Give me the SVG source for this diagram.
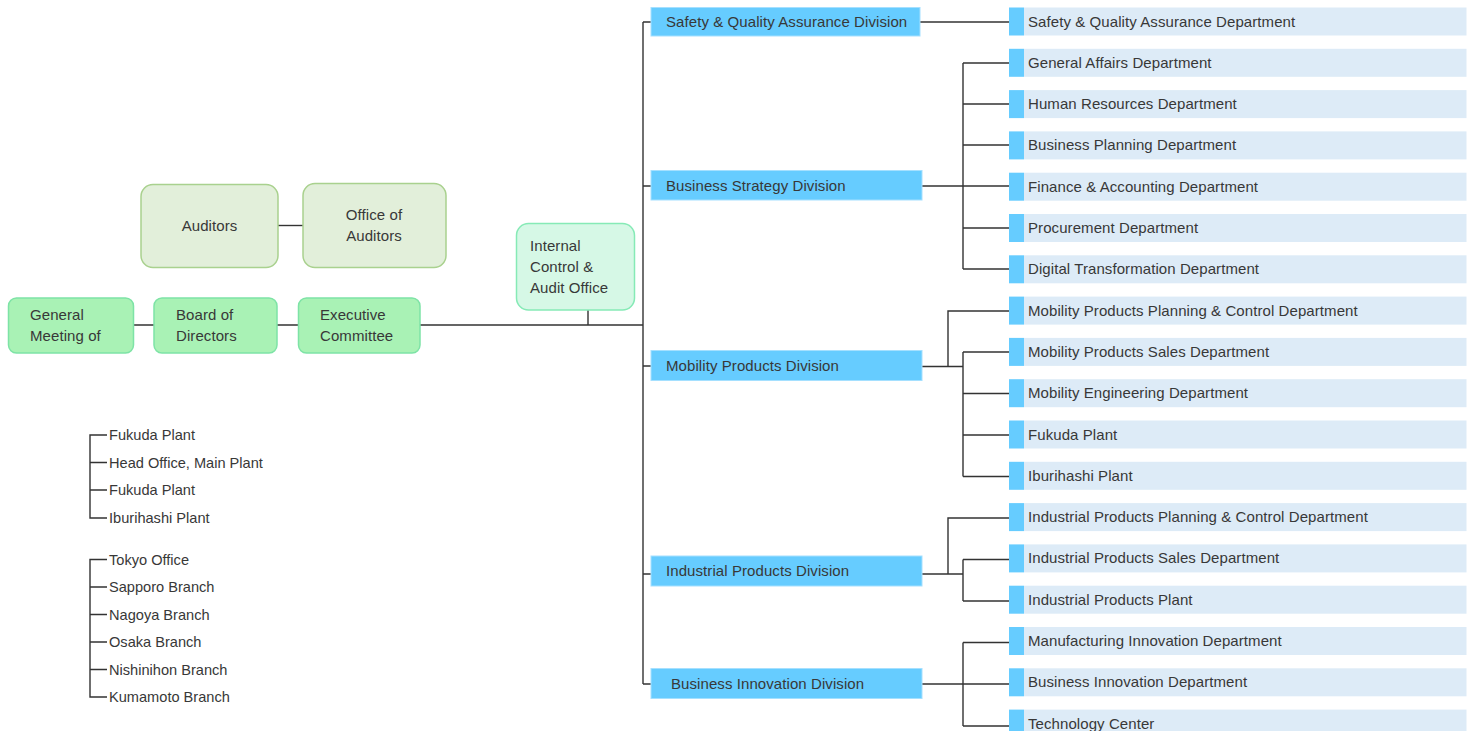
<svg xmlns="http://www.w3.org/2000/svg" width="1477" height="731" viewBox="0 0 1477 731">
<style>
text{font-family:"Liberation Sans",Arial,sans-serif;font-size:15px;fill:#383838;letter-spacing:0.08px;}
.lst{font-size:14.6px;letter-spacing:0;}
.ln{stroke:#333;stroke-width:1.4;fill:none;}
.tab{fill:#66CCFF;}
.bar{fill:#DDEBF7;}
.div{fill:#66CCFF;stroke:#A5E0FF;stroke-width:1;}
.aud{fill:#E2EFDA;stroke:#A9D18E;stroke-width:1.5;}
.gov{fill:#A9F2B5;stroke:#7EE3A6;stroke-width:1.5;}
.ic{fill:#D6F8E6;stroke:#86EAB6;stroke-width:1.5;}
</style>
<rect width="1477" height="731" fill="#fff"/>
<g id="connectors">
<path class="ln" d="M278 225.5H303"/>
<path class="ln" d="M133 325H154M277 325H298M420 325H643M588 310V325"/>
<path class="ln" d="M643 22V684M643 22H651M643 186H651M643 366H651M643 574H651M643 684H651"/>
<path class="ln" d="M920 22H1009"/>
<path class="ln" d="M922 186H1009M963 63V269M963 63H1009M963 104H1009M963 145H1009M963 228H1009M963 269H1009"/>
<path class="ln" d="M922 366.5H963M948 366.5V311H1009M963 352V476.5M963 352H1009M963 393.5H1009M963 435H1009M963 476.5H1009"/>
<path class="ln" d="M922 574H963M948 574V518H1009M963 559.5V601M963 559.5H1009M963 601H1009"/>
<path class="ln" d="M922 684H1009M963 642.5V726M963 642.5H1009M963 726H1009"/>
<path class="ln" d="M107 435H90V518H107M90 462.5H107M90 490H107"/>
<path class="ln" d="M107 559.5H90V697H107M90 587H107M90 614.5H107M90 642H107M90 669.5H107"/>
</g>
<g id="auditors"><rect class="aud" x="141" y="184.5" width="137" height="83" rx="12"/><text x="209.5" y="231" text-anchor="middle">Auditors</text></g>
<g id="office-of-auditors"><rect class="aud" x="303" y="183.5" width="143" height="84" rx="12"/><text x="374" y="220" text-anchor="middle">Office of</text><text x="374" y="241" text-anchor="middle">Auditors</text></g>
<g id="general-meeting"><rect class="gov" x="8.5" y="298" width="125" height="55" rx="8"/><text x="30" y="320">General</text><text x="30" y="341">Meeting of</text></g>
<g id="board"><rect class="gov" x="154" y="298" width="123" height="55" rx="8"/><text x="176" y="320">Board of</text><text x="176" y="341">Directors</text></g>
<g id="executive"><rect class="gov" x="298.5" y="298" width="121.5" height="55" rx="8"/><text x="320" y="320">Executive</text><text x="320" y="341">Committee</text></g>
<g id="internal-control"><rect class="ic" x="516.5" y="223.5" width="118" height="86.5" rx="12"/><text x="530" y="251">Internal</text><text x="530" y="272">Control &amp;</text><text x="530" y="293">Audit Office</text></g>
<g id="div-safety"><rect class="div" x="651" y="7.5" width="269" height="28.5"/><text x="666" y="27">Safety &amp; Quality Assurance Division</text></g>
<g id="div-strategy"><rect class="div" x="651" y="170.5" width="271" height="29.5"/><text x="666" y="190.5">Business Strategy Division</text></g>
<g id="div-mobility"><rect class="div" x="651" y="350.5" width="271" height="30"/><text x="666" y="370.5">Mobility Products Division</text></g>
<g id="div-industrial"><rect class="div" x="651" y="556" width="271" height="30"/><text x="666" y="576">Industrial Products Division</text></g>
<g id="div-innovation"><rect class="div" x="651" y="668.5" width="271" height="30"/><text x="671" y="688.5">Business Innovation Division</text></g>
<g id="departments">
<g id="d0"><rect class="bar" x="1024" y="7.5" width="442.5" height="28"/><rect class="tab" x="1009" y="7.5" width="15" height="28"/><text x="1028" y="26.5">Safety &amp; Quality Assurance Department</text></g>
<g id="d1"><rect class="bar" x="1024" y="48.8" width="442.5" height="28"/><rect class="tab" x="1009" y="48.8" width="15" height="28"/><text x="1028" y="67.8">General Affairs Department</text></g>
<g id="d2"><rect class="bar" x="1024" y="90.1" width="442.5" height="28"/><rect class="tab" x="1009" y="90.1" width="15" height="28"/><text x="1028" y="109.1">Human Resources Department</text></g>
<g id="d3"><rect class="bar" x="1024" y="131.4" width="442.5" height="28"/><rect class="tab" x="1009" y="131.4" width="15" height="28"/><text x="1028" y="150.4">Business Planning Department</text></g>
<g id="d4"><rect class="bar" x="1024" y="172.7" width="442.5" height="28"/><rect class="tab" x="1009" y="172.7" width="15" height="28"/><text x="1028" y="191.7">Finance &amp; Accounting Department</text></g>
<g id="d5"><rect class="bar" x="1024" y="214" width="442.5" height="28"/><rect class="tab" x="1009" y="214" width="15" height="28"/><text x="1028" y="233">Procurement Department</text></g>
<g id="d6"><rect class="bar" x="1024" y="255.3" width="442.5" height="28"/><rect class="tab" x="1009" y="255.3" width="15" height="28"/><text x="1028" y="274.3">Digital Transformation Department</text></g>
<g id="d7"><rect class="bar" x="1024" y="296.6" width="442.5" height="28"/><rect class="tab" x="1009" y="296.6" width="15" height="28"/><text x="1028" y="315.6">Mobility Products Planning &amp; Control Department</text></g>
<g id="d8"><rect class="bar" x="1024" y="337.9" width="442.5" height="28"/><rect class="tab" x="1009" y="337.9" width="15" height="28"/><text x="1028" y="356.9">Mobility Products Sales Department</text></g>
<g id="d9"><rect class="bar" x="1024" y="379.2" width="442.5" height="28"/><rect class="tab" x="1009" y="379.2" width="15" height="28"/><text x="1028" y="398.2">Mobility Engineering Department</text></g>
<g id="d10"><rect class="bar" x="1024" y="420.5" width="442.5" height="28"/><rect class="tab" x="1009" y="420.5" width="15" height="28"/><text x="1028" y="439.5">Fukuda Plant</text></g>
<g id="d11"><rect class="bar" x="1024" y="461.8" width="442.5" height="28"/><rect class="tab" x="1009" y="461.8" width="15" height="28"/><text x="1028" y="480.8">Iburihashi Plant</text></g>
<g id="d12"><rect class="bar" x="1024" y="503.1" width="442.5" height="28"/><rect class="tab" x="1009" y="503.1" width="15" height="28"/><text x="1028" y="522.1">Industrial Products Planning &amp; Control Department</text></g>
<g id="d13"><rect class="bar" x="1024" y="544.4" width="442.5" height="28"/><rect class="tab" x="1009" y="544.4" width="15" height="28"/><text x="1028" y="563.4">Industrial Products Sales Department</text></g>
<g id="d14"><rect class="bar" x="1024" y="585.7" width="442.5" height="28"/><rect class="tab" x="1009" y="585.7" width="15" height="28"/><text x="1028" y="604.7">Industrial Products Plant</text></g>
<g id="d15"><rect class="bar" x="1024" y="627" width="442.5" height="28"/><rect class="tab" x="1009" y="627" width="15" height="28"/><text x="1028" y="646">Manufacturing Innovation Department</text></g>
<g id="d16"><rect class="bar" x="1024" y="668.3" width="442.5" height="28"/><rect class="tab" x="1009" y="668.3" width="15" height="28"/><text x="1028" y="687.3">Business Innovation Department</text></g>
<g id="d17"><rect class="bar" x="1024" y="709.6" width="442.5" height="28"/><rect class="tab" x="1009" y="709.6" width="15" height="28"/><text x="1028" y="728.6">Technology Center</text></g>
</g>
<g id="plants">
<text class="lst" x="109" y="440">Fukuda Plant</text>
<text class="lst" x="109" y="467.5">Head Office, Main Plant</text>
<text class="lst" x="109" y="495">Fukuda Plant</text>
<text class="lst" x="109" y="523">Iburihashi Plant</text>
</g>
<g id="offices">
<text class="lst" x="109" y="564.5">Tokyo Office</text>
<text class="lst" x="109" y="592">Sapporo Branch</text>
<text class="lst" x="109" y="619.5">Nagoya Branch</text>
<text class="lst" x="109" y="647">Osaka Branch</text>
<text class="lst" x="109" y="674.5">Nishinihon Branch</text>
<text class="lst" x="109" y="702">Kumamoto Branch</text>
</g>
</svg>
